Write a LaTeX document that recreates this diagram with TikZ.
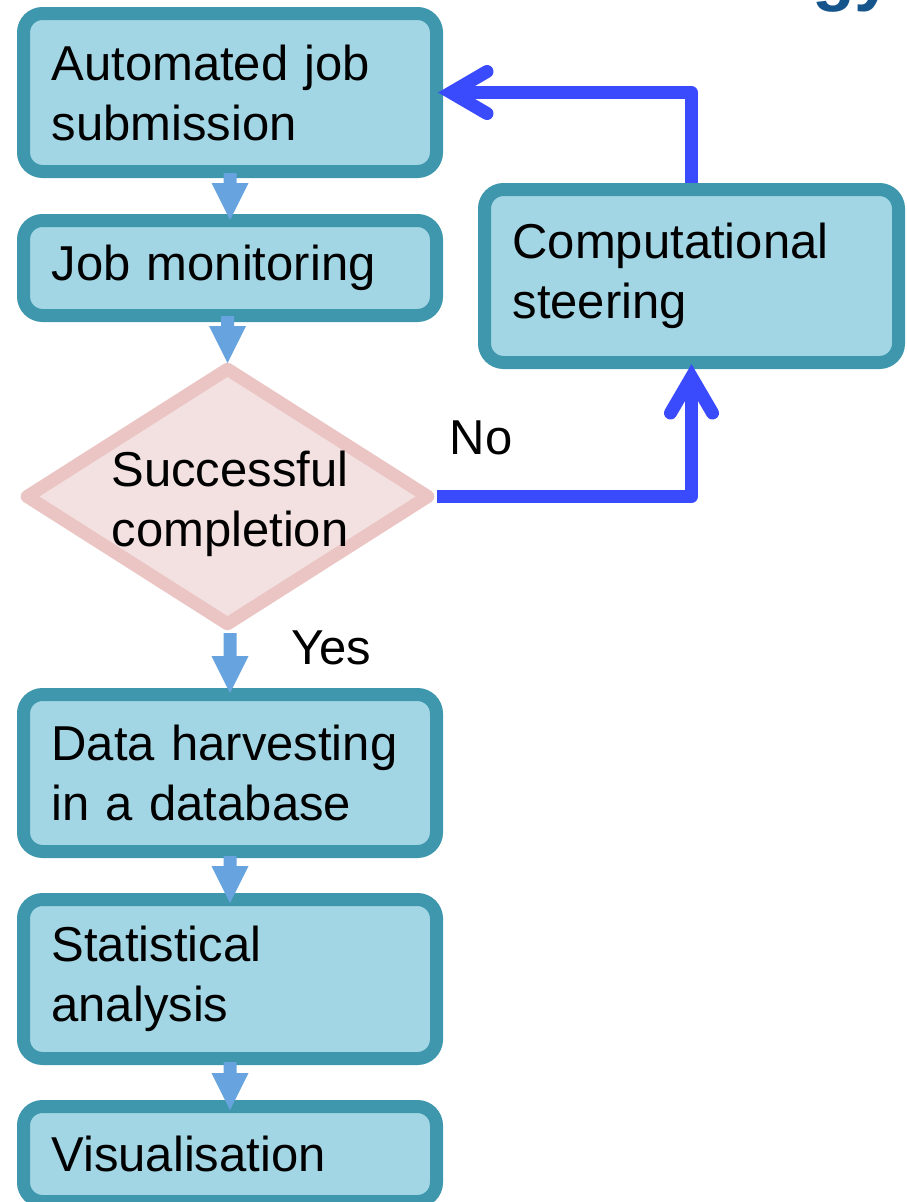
\documentclass[tikz,border=0pt]{standalone}
\usepackage{fontspec}
\setmainfont{Liberation Sans}
\usetikzlibrary{calc,shapes.geometric}
\definecolor{boxfill}{RGB}{163,214,228}
\definecolor{boxborder}{RGB}{62,151,172}
\definecolor{diafill}{RGB}{243,225,225}
\definecolor{diaborder}{RGB}{235,197,196}
\definecolor{fatc}{RGB}{103,163,222}
\definecolor{steerc}{RGB}{58,75,254}
\definecolor{titlec}{RGB}{22,85,140}
\tikzset{
  stepbox/.style={rectangle, rounded corners=19pt, draw=boxborder, fill=boxfill,
    line width=13pt, minimum width=413pt, text width=357pt, inner xsep=28pt,
    inner ysep=0pt, align=left},
  decision/.style={diamond, draw=diaborder, fill=diafill, line width=13pt,
    line join=round, inner sep=0pt, minimum width=406pt, minimum height=260pt},
  plain/.style={inner sep=0pt, align=center},
  steerline/.style={draw=steerc, line width=13pt, line join=round, line cap=butt},
  steerhead/.style={draw=steerc, line width=13pt, line join=miter, line cap=round},
  fatarrow/.style={fill=fatc}
}
\newcommand{\fatarr}[4]{%
  \fill[fatarrow] ($(#3 |- #1)+(-6.5,#2)$) -- ($(#3 |- #1)+(6.5,#2)$)
    -- ($(#3)+(6.5,#4-37)$) -- ($(#3)+(18.5,#4-37)$) -- ($(#3)+(0,#4)$)
    -- ($(#3)+(-18.5,#4-37)$) -- ($(#3)+(-6.5,#4-37)$) -- cycle;}
\begin{document}
\begin{tikzpicture}[x=1pt,y=-1pt, every node/.style={font=\fontsize{49}{60}\selectfont}]
\useasboundingbox (0,0) rectangle (906,1202);

% fragment of a title cut by the top edge
\node[plain, anchor=base west, text=titlec, font=\fontsize{70}{80}\selectfont\bfseries] (ttl) at (812,-3) {gy};

\node[stepbox, minimum height=158pt] (b1) at (230,92.5) {Automated job\\submission};
\node[stepbox, minimum height=95pt] (b2) at (230,268) {Job monitoring};
\node[decision] (dia) at (227.5,496.5) {};
\node[plain] (dt) at (230,504) {Successful\\completion};
\node[stepbox, minimum height=157pt] (b4) at (230,773) {Data harvesting\\in a database};
\node[stepbox, minimum height=159pt] (b5) at (230,979) {Statistical\\analysis};
\node[stepbox, minimum height=95pt] (b6) at (230,1154) {Visualisation};
\node[stepbox, minimum height=173pt, minimum width=414pt, text width=358pt] (st) at (691.5,276) {Computational\\steering};

\node[plain] (no) at (481,438) {No};
\node[plain] (yes) at (331,648) {Yes};

% fat arrows
\fatarr{b1.south}{-5}{b2.north}{6}
\fatarr{b2.south}{-6}{dia.north}{3}
\fatarr{dia.south}{0}{b4.north}{5}
\fatarr{b4.south}{-2}{b5.north}{10}
\fatarr{b5.south}{-3}{b6.north}{10}

% steering loop
\draw[steerline] (dia.east) -- (dia.east -| st.south) -- ($(st.south)+(0,8)$);
\draw[steerhead] ($(st.south)+(-21,44)$) -- ($(st.south)+(0,8)$) -- ($(st.south)+(21,44)$);
\draw[steerline] (st.north) -- (st.north |- b1.east) -- ($(b1.east)+(8,0)$);
\draw[steerhead] ($(b1.east)+(44,-21)$) -- ($(b1.east)+(8,0)$) -- ($(b1.east)+(44,21)$);
\end{tikzpicture}
\end{document}
